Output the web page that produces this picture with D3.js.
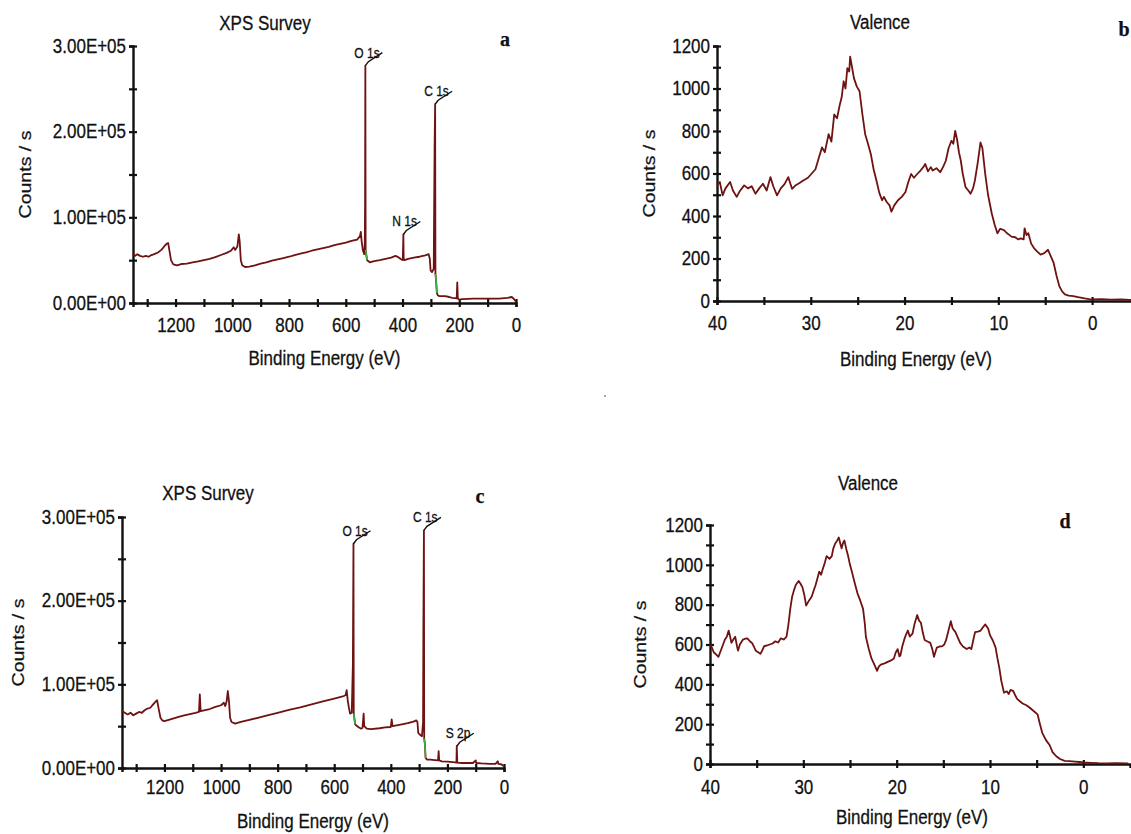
<!DOCTYPE html>
<html>
<head>
<meta charset="utf-8">
<script src="https://cdn.jsdelivr.net/npm/d3@7"></script>
<style>
  body { margin: 0; background: #fff; }
  svg text { font-family: "Liberation Sans", Arial, sans-serif; fill: #111; stroke: #111; stroke-width: 0.25px; }
</style>
</head>
<body>
<svg id="chart" width="1131" height="834"></svg>
<script>
// ---- data: [binding energy (eV), counts/s] ----
const surveyA = [
  [1350,58000],[1342,55000],[1335,57000],[1325,55000],[1315,54000],[1305,55000],[1295,54000],[1285,56000],
  [1275,57000],[1262,59000],[1250,62000],[1240,66000],[1232,69000],[1226,70000],[1222,62000],[1216,50000],
  [1208,45000],[1195,44000],[1180,45500],[1160,46000],[1140,47500],[1120,48500],[1100,50000],[1080,51500],
  [1060,53500],[1040,56000],[1020,58500],[1005,61000],[995,65000],[990,62000],[982,66000],[977,80000],
  [974,72000],[970,50000],[965,44000],[955,42000],[940,42500],[920,44000],[900,46000],[880,47500],
  [860,49500],[840,51000],[820,52500],[800,54000],[780,56000],[760,57500],[740,59000],[720,61000],
  [700,62500],[680,64000],[660,65500],[640,67500],[620,69000],[600,70500],[580,72500],[560,74000],
  [550,78000],[547,83000],[544,72000],[540,62000],[535,57000],[533,70000],[532,115000],[531,277000],
  [530,62000],[528,57000],[525,50000],[515,47500],[500,49000],[480,50000],[460,51500],[440,53000],
  [425,55000],[415,53500],[405,51000],[399,50000],[397,80000],[396,52000],[393,50000],[380,51500],
  [360,53000],[340,54000],[320,55500],[308,57000],[304,52000],[301,38000],[296,36000],[290,40000],
  [287,180000],[285,232000],[284,34000],[282,28000],[279,12000],[276,9000],[270,8000],[250,8000],
  [235,7000],[225,6000],[209,5500],[207,24000],[205,5000],[200,4000],[190,4500],[150,5000],
  [100,5200],[60,5000],[30,6000],[15,7000],[8,5000],[0,1500]
];
const greenA = [[530, 525], [284, 279]];
const peaksA = [["O 1s", 531, 277000], ["C 1s", 285, 232000], ["N 1s", 397, 80000]];

const surveyC = [
  [1350,68000],[1340,66000],[1330,64000],[1320,66000],[1310,63000],[1300,65000],[1290,67000],[1280,66000],
  [1270,69000],[1260,71000],[1250,72000],[1240,76000],[1232,79000],[1226,81000],[1220,70000],[1214,60000],
  [1208,57000],[1200,56000],[1185,57500],[1170,59000],[1150,61000],[1130,63000],[1110,64500],[1090,66000],
  [1078,67000],[1075,88000],[1072,68000],[1060,69000],[1040,70500],[1020,73000],[1000,75000],[990,78000],
  [985,74000],[980,80000],[976,92000],[972,80000],[968,60000],[963,55000],[950,53000],[930,55000],
  [900,57500],[870,60000],[840,62500],[800,66000],[760,69500],[720,72500],[680,76000],[640,79500],
  [600,83000],[570,85500],[560,87000],[556,93000],[552,80000],[548,72000],[544,65000],[538,66000],
  [534,125000],[532,268000],[531,65000],[529,60000],[526,52000],[515,49000],[505,47000],[500,48000],
  [496,65000],[494,50000],[485,47000],[470,46500],[440,47500],[420,48500],[400,49000],[397,58000],
  [394,50000],[370,51500],[340,53500],[320,55500],[310,57000],[306,55000],[303,42000],[298,40000],
  [290,38000],[286,55000],[285,160000],[283,284000],[282,35000],[280,30000],[277,12000],[272,10000],
  [260,10000],[245,9500],[233,9000],[231,20000],[229,9000],[220,8000],[200,7500],[180,7000],
  [168,6500],[167,26000],[165,6500],[150,6000],[130,6000],[110,6000],[100,9000],[98,6000],
  [80,5500],[50,5000],[30,5000],[22,8000],[20,5000],[10,4500],[0,2000]
];
const greenC = [[531, 526], [282, 277]];
const peaksC = [["O 1s", 532, 268000], ["C 1s", 283, 284000], ["S 2p", 167, 26000]];

const valenceB = [
  [40,544],[39.7,560],[39.4,497],[39.1,530],[38.6,560],[38.3,520],[37.9,490],[37.6,515],[37.1,544],
  [36.7,530],[36.3,540],[35.9,505],[35.5,530],[35.1,552],[34.7,520],[34.3,583],[34,540],[33.6,497],
  [33.2,530],[32.8,550],[32.4,583],[32,528],[31.6,545],[31.2,555],[30.8,567],[30.3,580],[29.9,600],
  [29.5,620],[29.1,680],[28.8,723],[28.5,700],[28.1,785],[27.8,750],[27.5,878],[27.2,860],[26.9,925],
  [26.7,960],[26.5,1034],[26.3,1000],[26.1,1096],[25.9,1080],[25.8,1150],[25.6,1100],[25.4,1049],
  [25.1,1010],[24.8,987],[24.5,880],[24.2,785],[23.9,740],[23.6,692],[23.3,620],[23,567],[22.7,510],
  [22.4,474],[22.2,490],[21.9,466],[21.6,450],[21.4,420],[21.1,450],[20.7,474],[20.3,490],[19.9,513],
  [19.6,560],[19.3,598],[19,580],[18.6,600],[18.3,614],[18,630],[17.8,645],[17.5,610],[17.2,630],
  [17,614],[16.6,625],[16.2,606],[15.9,630],[15.6,660],[15.3,720],[15,754],[14.8,740],[14.6,800],
  [14.4,760],[14.2,700],[14,660],[13.8,600],[13.5,536],[13.2,520],[12.96,505],[12.7,530],[12.5,567],
  [12.2,650],[11.9,746],[11.7,720],[11.4,598],[11.1,500],[10.7,412],[10.4,360],[10.1,319],[9.8,340],
  [9.4,334],[9.1,320],[8.8,310],[8.6,303],[8.2,300],[7.9,290],[7.6,295],[7.3,290],[7.2,342],[7,310],
  [6.8,319],[6.5,270],[6.2,249],[5.9,235],[5.5,218],[5.1,225],[4.7,241],[4.4,210],[4.1,179],[3.8,120],
  [3.5,70],[3.2,45],[2.9,31],[2.5,25],[2,23],[1.5,18],[0.8,12],[0.3,9],[0,8],[-1,9],[-2,6],[-3.1,8],
  [-4,5],[-5,6]
];

const valenceD = [
  [40,600],[39.8,585],[39.6,561],[39.3,548],[39.1,538],[38.8,575],[38.6,600],[38.4,625],[38.2,639],
  [38,670],[37.8,630],[37.7,608],[37.5,625],[37.3,639],[37.1,590],[37,569],[36.8,600],[36.5,623],
  [36.2,630],[36,631],[35.7,615],[35.5,608],[35.3,590],[35.1,569],[34.8,560],[34.6,553],[34.4,570],
  [34.2,592],[33.9,595],[33.6,600],[33.3,605],[33,616],[32.7,610],[32.4,631],[32.1,625],[31.8,639],
  [31.6,700],[31.4,779],[31.2,840],[31,873],[30.8,900],[30.5,919],[30.3,905],[30.1,888],[29.9,850],
  [29.7,795],[29.4,820],[29.1,841],[28.9,870],[28.7,896],[28.5,930],[28.3,966],[28.1,950],[27.9,982],
  [27.7,1010],[27.5,1044],[27.2,1030],[26.95,1044],[26.8,1080],[26.6,1106],[26.4,1120],[26.2,1137],
  [26,1100],[25.9,1083],[25.75,1110],[25.6,1122],[25.4,1080],[25.2,1044],[25,1000],[24.8,966],
  [24.5,910],[24.2,857],[23.9,820],[23.6,779],[23.4,700],[23.3,639],[23,580],[22.7,530],[22.4,500],
  [22.1,468],[21.9,490],[21.7,499],[21.3,505],[20.9,514],[20.6,520],[20.3,530],[20.1,560],[19.9,577],
  [19.7,540],[19.6,545],[19.4,590],[19.2,623],[19,650],[18.8,670],[18.6,640],[18.3,655],[18.1,700],
  [17.8,748],[17.6,720],[17.4,709],[17.2,660],[17,623],[16.7,615],[16.4,608],[16.2,580],[16,538],
  [15.8,570],[15.7,584],[15.4,590],[15.1,592],[14.9,600],[14.7,623],[14.5,660],[14.2,717],[14,680],
  [13.7,662],[13.4,630],[13.2,608],[12.9,590],[12.5,577],[12.2,585],[12,577],[11.8,620],[11.6,662],
  [11.3,665],[11,670],[10.7,690],[10.5,701],[10.2,680],[10,647],[9.7,620],[9.4,584],[9.2,530],
  [9,483],[8.8,420],[8.5,358],[8.2,365],[8,351],[7.8,372],[7.5,366],[7.3,345],[7.1,327],[6.8,315],
  [6.5,304],[6.1,295],[5.7,281],[5.3,265],[4.9,249],[4.7,210],[4.4,156],[4,120],[3.6,94],[3.3,60],
  [2.9,39],[2.5,25],[2,16],[1.5,14],[0.9,12],[0.4,10],[0,8],[-0.8,6],[-1.6,4],[-2.5,3],[-3.5,4],[-4.8,3]
];

// ticks and labels
const surveyXTicks = d3.range(1300, -1, -100);
const surveyXLabels = [1200, 1000, 800, 600, 400, 200, 0];
const surveyYTicks = d3.range(0, 300001, 50000);
const surveyYLabels = { 0: "0.00E+00", 100000: "1.00E+05", 200000: "2.00E+05", 300000: "3.00E+05" };
const valenceXTicks = [40, 35, 30, 25, 20, 15, 10, 5, 0];
const valenceXLabels = [40, 30, 20, 10, 0];
const valenceYTicks = d3.range(0, 1201, 100);
const valenceYLabels = [0, 200, 400, 600, 800, 1000, 1200];

const lineColor = "#6e1212";
const stretch = 1.15;   // the source figure's text is slightly pulled tall
const fs = 17;          // main font size
const svg = d3.select("#chart");
svg.append("rect").attr("width", 1131).attr("height", 834).attr("fill", "#fff");

const panels = [
  { data: surveyA, green: greenA, peaks: peaksA, kind: "survey", xDom: [1350, 0],
    left: 133, right: 516, top: 46, bottom: 303, tickY: 29, xTitleY: 365,
    title: "XPS Survey", titleX: 265, titleY: 30, letter: "a", letterX: 505, letterY: 46, yTitleX: 31 },
  { data: valenceB, kind: "valence", xDom: [40, -5],
    left: 717, right: 1139, top: 46, bottom: 301, tickY: 29, xTitleY: 366,
    title: "Valence", titleX: 880, titleY: 29, letter: "b", letterX: 1124, letterY: 36, yTitleX: 655 },
  { data: surveyC, green: greenC, peaks: peaksC, kind: "survey", xDom: [1350, 0],
    left: 122, right: 504, top: 517, bottom: 768, tickY: 26, xTitleY: 828,
    title: "XPS Survey", titleX: 208, titleY: 500, letter: "c", letterX: 480, letterY: 503, yTitleX: 24 },
  { data: valenceD, kind: "valence", xDom: [40, -5],
    left: 710, right: 1130, top: 525, bottom: 764, tickY: 30, xTitleY: 824,
    title: "Valence", titleX: 868, titleY: 490, letter: "d", letterX: 1065, letterY: 528, yTitleX: 646 }
];

// text drawn at (x,y) and stretched vertically, optionally rotated
function addText(g, x, y, str, size, rotate) {
  return g.append("text")
    .attr("transform", `translate(${x},${y}) scale(1,${stretch})` + (rotate ? " rotate(-90)" : ""))
    .attr("font-size", size).text(str);
}

function drawPanel(p) {
  const g = svg.append("g");
  const survey = p.kind === "survey";
  const x = d3.scaleLinear().domain(p.xDom).range([p.left, p.right]);
  const y = d3.scaleLinear().domain(survey ? [0, 300000] : [0, 1200]).range([p.bottom, p.top]);

  const xTicks = survey ? surveyXTicks : valenceXTicks;
  const xLabs = survey ? surveyXLabels : valenceXLabels;
  const xAxis = d3.axisBottom(x)
    .tickValues(xTicks)
    .tickFormat(d => xLabs.includes(d) ? d : "")
    .tickSizeOuter(0).tickSize(4);
  const xg = g.append("g").attr("transform", `translate(0,${p.bottom})`).call(xAxis);
  xg.selectAll(".tick line").attr("y1", -4).attr("y2", 4);
  xg.selectAll(".tick text").attr("y", 0).attr("dy", null)
    .attr("transform", `translate(0,${p.tickY}) scale(1,${stretch})`);

  const yAxis = d3.axisLeft(y)
    .tickValues(survey ? surveyYTicks : valenceYTicks)
    .tickFormat(d => survey ? (surveyYLabels[d] || "") : (valenceYLabels.includes(d) ? d : ""))
    .tickSizeOuter(0).tickSize(4).tickPadding(3);
  const yg = g.append("g").attr("transform", `translate(${p.left},0)`).call(yAxis);
  yg.selectAll(".tick line").attr("x1", -4).attr("x2", 4);
  yg.selectAll(".tick text").attr("transform", `scale(1,${stretch})`);

  g.selectAll(".domain").attr("stroke", "#111").attr("stroke-width", 2.4);
  g.selectAll(".tick line").attr("stroke", "#111").attr("stroke-width", 2.2);
  g.selectAll(".tick text").attr("font-size", fs).attr("fill", "#111");

  const line = d3.line().x(d => x(d[0])).y(d => y(d[1]));
  g.append("path").datum(p.data).attr("d", line)
    .attr("fill", "none").attr("stroke", lineColor).attr("stroke-width", 1.8)
    .attr("stroke-linejoin", "round");

  // green background-region bits
  (p.green || []).forEach(r => {
    const seg = p.data.filter(d => d[0] <= r[0] && d[0] >= r[1]);
    g.append("path").datum(seg).attr("d", line)
      .attr("fill", "none").attr("stroke", "#3cb043").attr("stroke-width", 1.6);
  });

  // peak labels with leader lines
  (p.peaks || []).forEach(pk => {
    const px = x(pk[1]), py = y(pk[2]);
    g.append("path")
      .attr("d", `M${px},${py} L${px + 3},${py - 4} L${px + 17},${py - 13}`)
      .attr("fill", "none").attr("stroke", "#111").attr("stroke-width", 1.4);
    addText(g, px - 11, py - 8, pk[0], 12).attr("stroke-width", 0);
  });

  addText(g, p.titleX, p.titleY, p.title, fs).attr("text-anchor", "middle");

  addText(g, (p.left + Math.min(p.right, 1131)) / 2 + (survey ? 0 : -8), p.xTitleY,
    "Binding Energy (eV)", fs).attr("text-anchor", "middle");

  addText(g, p.yTitleX, (p.top + p.bottom) / 2, "Counts / s", fs, true).attr("text-anchor", "middle");

  g.append("text").attr("x", p.letterX).attr("y", p.letterY)
    .attr("text-anchor", "middle").attr("font-size", 20).attr("font-weight", "bold")
    .style("font-family", "'Liberation Serif', 'Times New Roman', serif").text(p.letter);
}

panels.forEach(drawPanel);

// stray speck in the middle of the figure
svg.append("circle").attr("cx", 605).attr("cy", 396).attr("r", 1).attr("fill", "#888");
</script>
</body>
</html>
